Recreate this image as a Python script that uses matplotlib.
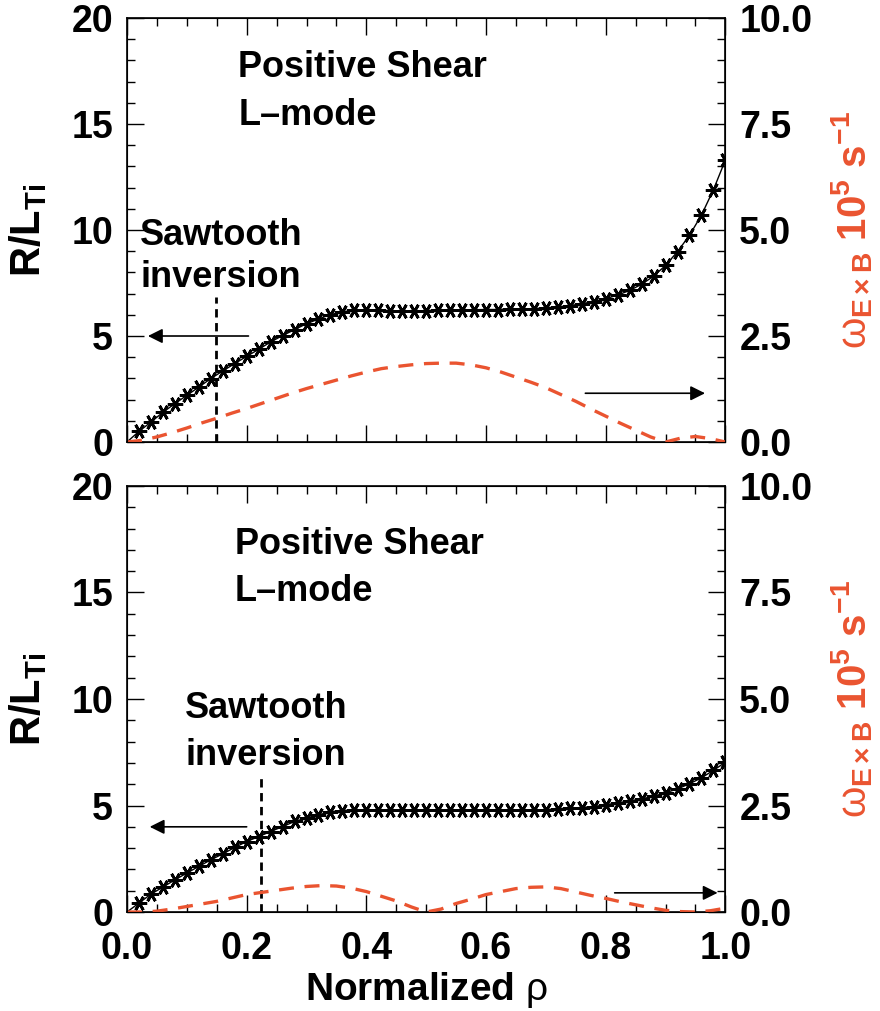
import numpy as np
import matplotlib as mpl
mpl.use('Agg')
import matplotlib.pyplot as plt
from matplotlib.ticker import MultipleLocator

# ---- data ----
rho_pts = np.arange(51) * 0.02

rlti_top = [0.00, 0.50, 0.94, 1.40, 1.81, 2.20, 2.59, 2.99, 3.35, 3.70,
            4.04, 4.37, 4.72, 5.02, 5.30, 5.58, 5.80, 6.01, 6.13, 6.21,
            6.24, 6.22, 6.18, 6.16, 6.17, 6.19, 6.21, 6.22, 6.23, 6.24,
            6.25, 6.25, 6.26, 6.27, 6.29, 6.31, 6.36, 6.43, 6.52, 6.62,
            6.76, 6.93, 7.15, 7.44, 7.82, 8.33, 8.98, 9.75, 10.70, 11.90,
            13.30]

rlti_bot = [0.00, 0.42, 0.84, 1.17, 1.51, 1.83, 2.14, 2.45, 2.73, 3.03,
            3.31, 3.54, 3.78, 4.01, 4.25, 4.40, 4.56, 4.70, 4.76, 4.78,
            4.78, 4.78, 4.78, 4.78, 4.78, 4.78, 4.78, 4.78, 4.78, 4.78,
            4.78, 4.78, 4.78, 4.79, 4.79, 4.80, 4.83, 4.86, 4.90, 4.95,
            5.03, 5.12, 5.21, 5.31, 5.43, 5.60, 5.78, 6.02, 6.30, 6.65,
            7.03]

rho_w = np.arange(41) * 0.025

wexb_top = [0.00, 0.04, 0.12, 0.22, 0.33, 0.45, 0.56, 0.68, 0.79, 0.91,
            1.03, 1.15, 1.26, 1.36, 1.46, 1.56, 1.65, 1.73, 1.78, 1.82,
            1.85, 1.86, 1.86, 1.82, 1.75, 1.65, 1.53, 1.41, 1.28, 1.12,
            0.96, 0.78, 0.61, 0.44, 0.28, 0.12, 0.00, 0.09, 0.13, 0.08,
            0.00]

wexb_bot = [0.00, 0.00, 0.02, 0.07, 0.13, 0.19, 0.25, 0.33, 0.41, 0.46,
            0.51, 0.56, 0.60, 0.62, 0.61, 0.56, 0.48, 0.37, 0.26, 0.12,
            0.00, 0.07, 0.20, 0.30, 0.41, 0.48, 0.55, 0.58, 0.59, 0.55,
            0.47, 0.39, 0.32, 0.24, 0.17, 0.10, 0.04, 0.01, 0.00, 0.03,
            0.09]

saw_rho = [0.149, 0.224]
saw_top = [6.84, 6.3]

orange = '#EA5430'

plt.rcParams['font.family'] = ['Liberation Sans', 'DejaVu Sans']
plt.rcParams['font.weight'] = 'bold'
plt.rcParams['axes.labelweight'] = 'bold'
plt.rcParams['mathtext.fontset'] = 'custom'
plt.rcParams['mathtext.rm'] = 'Liberation Sans:bold'
plt.rcParams['mathtext.bf'] = 'Liberation Sans:bold'
plt.rcParams['mathtext.it'] = 'Liberation Sans:weight=normal'

dpi = 100
fig = plt.figure(figsize=(880 / dpi, 1011 / dpi), dpi=dpi)

ax1 = fig.add_axes([0.1443, 0.5628, 0.68, 0.4194])
ax2 = fig.add_axes([0.1443, 0.0979, 0.68, 0.4214])

panels = [
    (ax1, rlti_top, wexb_top, saw_rho[0], saw_top[0],
     (0.186, 17.2, 14.95), (0.022, 9.29, 7.31),
     (0.203, 0.035, 5.0), (0.766, 0.966, 2.3)),
    (ax2, rlti_bot, wexb_bot, saw_rho[1], saw_top[1],
     (0.18, 16.8, 14.6), (0.097, 9.13, 6.89),
     (0.20, 0.038, 4.0), (0.815, 0.987, 0.9)),
]

for ax, rl, wx, xs, ys, ps, st, la, ra in panels:
    ax.plot(rho_pts, rl, color='black', lw=1.0,
            marker=(6, 2, 90), markersize=11, markeredgewidth=2.0,
            markevery=slice(1, None))
    ax.set_xlim(0, 1)
    ax.set_ylim(0, 20)
    ax.xaxis.set_major_locator(MultipleLocator(0.2))
    ax.xaxis.set_minor_locator(MultipleLocator(0.05))
    ax.yaxis.set_major_locator(MultipleLocator(5))
    ax.yaxis.set_minor_locator(MultipleLocator(1))
    ax.tick_params(which='both', direction='in', top=True, right=False,
                   width=1.0, labelsize=27, pad=10)
    ax.tick_params(axis='x', pad=14)
    ax.tick_params(which='major', length=12)
    ax.tick_params(which='minor', length=6)
    for s in ax.spines.values():
        s.set_linewidth(1.2)
    ax.set_ylabel(r'R/L$_\mathregular{Ti}$', fontsize=30, labelpad=16)

    ax.plot([xs, xs], [0, ys], color='black', lw=2, linestyle=(0, (3, 2)))

    ax.text(ps[0], ps[1], 'Positive Shear', fontsize=26)
    ax.text(ps[0], ps[2], 'L–mode', fontsize=26)
    ax.text(st[0], st[1], 'Sawtooth', fontsize=26)
    ax.text(st[0], st[2], 'inversion', fontsize=26)

    ax.annotate('', xy=(la[1], la[2]), xytext=(la[0], la[2]),
                arrowprops=dict(arrowstyle='-|>', color='black', lw=1.2,
                                mutation_scale=22, shrinkA=0, shrinkB=0))
    ax.annotate('', xy=(ra[1], ra[2]), xytext=(ra[0], ra[2]),
                arrowprops=dict(arrowstyle='-|>', color='black', lw=1.2,
                                mutation_scale=22, shrinkA=0, shrinkB=0))

    axr = ax.twinx()
    axr.plot(rho_w, wx, color=orange, lw=2.4, linestyle=(0, (4.5, 3.2)))
    axr.set_ylim(0, 10)
    axr.yaxis.set_major_locator(MultipleLocator(2.5))
    axr.yaxis.set_minor_locator(MultipleLocator(0.5))
    axr.yaxis.set_major_formatter(mpl.ticker.FormatStrFormatter('%.1f'))
    axr.tick_params(which='both', direction='in', width=1.0, labelsize=27, pad=10)
    axr.tick_params(which='major', length=12)
    axr.tick_params(which='minor', length=6)
    axr.set_ylabel(r'$\omega_\mathregular{E\times B}$ 10$^\mathregular{5}$ s$^\mathregular{−1}$',
                   color=orange, fontsize=29, labelpad=12)

ax1.tick_params(labelbottom=False)
ax2.set_xlabel(r'Normalized $\rho$', fontsize=28, labelpad=2)
ax2.xaxis.set_major_formatter(mpl.ticker.FormatStrFormatter('%.1f'))

fig.savefig('out.png', dpi=dpi)
